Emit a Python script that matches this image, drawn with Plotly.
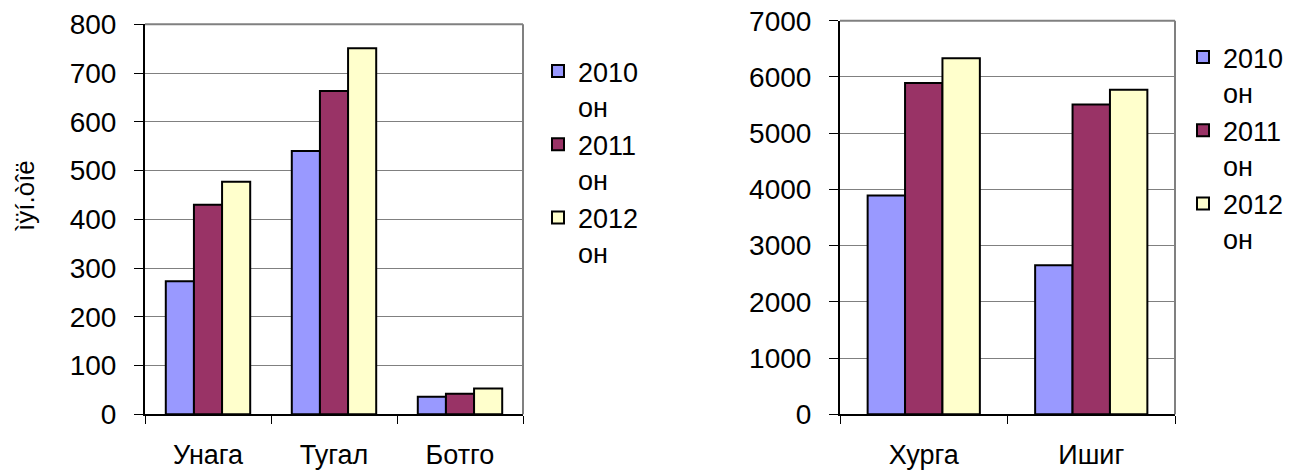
import plotly.graph_objects as go

years = ["2010<br>он", "2011<br>он", "2012<br>он"]
colors = ["#9999FF", "#993366", "#FFFFCC"]

left_cats = ["Унага", "Тугал", "Ботго"]
left_2010 = [273, 540, 36]
left_2011 = [430, 663, 42]
left_2012 = [477, 751, 53]

right_cats = ["Хурга", "Ишиг"]
right_2010 = [3890, 2650]
right_2011 = [5890, 5510]
right_2012 = [6330, 5770]

y_title = "ìÿí.òîë"

W, H = 1307, 470
FONT = "Liberation Sans, Arial, sans-serif"


def px(v):
    return v / W


def py(v):
    return 1 - v / H


fig = go.Figure()

left_series = [left_2010, left_2011, left_2012]
right_series = [right_2010, right_2011, right_2012]

for name, vals, col in zip(years, left_series, colors):
    fig.add_trace(go.Bar(x=left_cats, y=vals, name=name, marker_color=col,
                         marker_line=dict(color="black", width=2),
                         xaxis="x", yaxis="y", legend="legend"))
for name, vals, col in zip(years, right_series, colors):
    fig.add_trace(go.Bar(x=right_cats, y=vals, name=name, marker_color=col,
                         marker_line=dict(color="black", width=2),
                         xaxis="x2", yaxis="y2", legend="legend2"))

common_x = dict(type="category", tickson="boundaries", ticks="outside", ticklen=8,
                tickcolor="black", showline=True, linecolor="black", linewidth=2,
                showgrid=False, tickfont=dict(size=27, color="black", family=FONT),
                ticklabelstandoff=15, ticklabeloverflow="allow",
                automargin=False, fixedrange=True)
common_y = dict(ticks="outside", ticklen=9, tickcolor="black", showline=True,
                linecolor="black", linewidth=2, showgrid=True, gridcolor="#808080",
                gridwidth=1, zeroline=False,
                tickfont=dict(size=28, color="black", family=FONT),
                ticklabelstandoff=12, ticklabeloverflow="allow",
                automargin=False, fixedrange=True)

legend_common = dict(xanchor="left", yanchor="top",
                     font=dict(size=27, family=FONT, color="black"), valign="top",
                     bgcolor="rgba(0,0,0,0)", tracegroupgap=0, itemwidth=30)

fig.update_layout(
    width=W, height=H,
    margin=dict(l=0, r=0, t=0, b=0),
    paper_bgcolor="white", plot_bgcolor="white",
    barmode="group", bargap=0.33, bargroupgap=0,
    font=dict(family=FONT, color="black"),
    xaxis=dict(common_x, domain=[px(145), px(523)], anchor="y"),
    yaxis=dict(common_y, domain=[py(414.3), py(24.3)], range=[0, 800], dtick=100, anchor="x"),
    xaxis2=dict(common_x, domain=[px(840), px(1175)], anchor="y2"),
    yaxis2=dict(common_y, domain=[py(414.3), py(20.7)], range=[0, 7000], dtick=1000, anchor="x2"),
    legend=dict(legend_common, x=538 / W, y=1 - 47 / H),
    legend2=dict(legend_common, x=1183 / W, y=1 - 33 / H),
    annotations=[dict(text=y_title, textangle=-90, x=px(25), y=py(195),
                      xanchor="center", yanchor="middle",
                      xref="paper", yref="paper", showarrow=False,
                      font=dict(size=26, family=FONT, color="black"))],
    shapes=[
        dict(type="line", xref="x domain", yref="y domain", x0=0, x1=1, y0=1, y1=1,
             line=dict(color="#808080", width=2)),
        dict(type="line", xref="x domain", yref="y domain", x0=1, x1=1, y0=0, y1=1,
             line=dict(color="#808080", width=2)),
        dict(type="line", xref="x2 domain", yref="y2 domain", x0=0, x1=1, y0=1, y1=1,
             line=dict(color="#808080", width=2)),
        dict(type="line", xref="x2 domain", yref="y2 domain", x0=1, x1=1, y0=0, y1=1,
             line=dict(color="#808080", width=2)),
    ],
)

fig.write_html("out.html", config={"displayModeBar": False},
               post_script="document.body.style.margin='0';")
